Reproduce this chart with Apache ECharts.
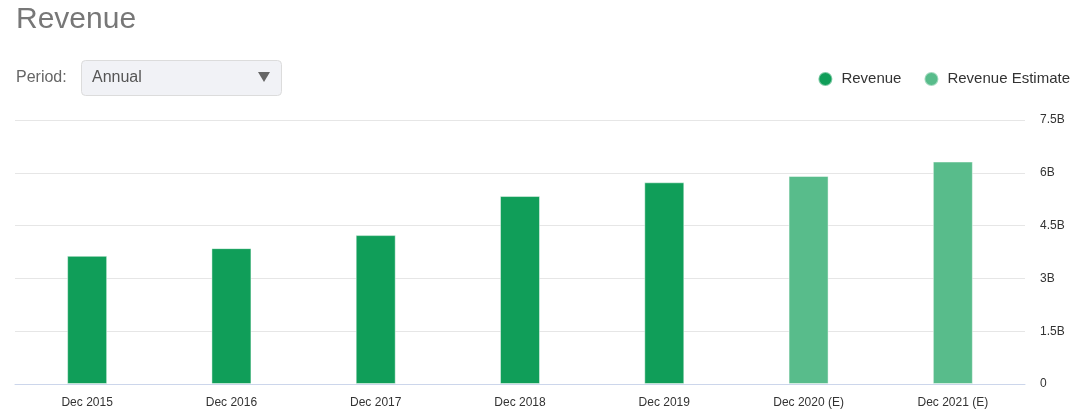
<!DOCTYPE html>
<html>
<head>
<meta charset="utf-8">
<script src="https://cdn.jsdelivr.net/npm/echarts@6/dist/echarts.min.js"></script>
<style>
  html, body { margin: 0; padding: 0; background: #fff; }
  #chart { width: 1079px; height: 416px; }
</style>
</head>
<body>
<div id="chart"></div>
<script>
var categories = ['Dec 2015', 'Dec 2016', 'Dec 2017', 'Dec 2018', 'Dec 2019', 'Dec 2020 (E)', 'Dec 2021 (E)'];
var revenue = [3.64, 3.86, 4.23, 5.34, 5.73, null, null];
var revenueEstimate = [null, null, null, null, null, 5.91, 6.32];
var yTicks = [0, 1.5, 3, 4.5, 6, 7.5];

var font = '"Liberation Sans", Arial, sans-serif';
var chart = echarts.init(document.getElementById('chart'));

var option = {
  backgroundColor: '#fff',
  animation: false,
  textStyle: { fontFamily: font },
  title: {
    text: 'Revenue',
    left: 11,
    top: 0,
    textStyle: { color: '#777', fontSize: 30, fontWeight: 'normal', fontFamily: font }
  },
  graphic: [
    {
      type: 'text', left: 16, top: 70,
      style: { text: 'Period:', fill: '#666', font: '16px ' + font }
    },
    {
      type: 'rect', left: 81, top: 60,
      shape: { width: 200, height: 35, r: 4 },
      style: { fill: '#f1f2f6', stroke: '#dcdcdc', lineWidth: 1 }
    },
    {
      type: 'text', left: 92, top: 70,
      style: { text: 'Annual', fill: '#555', font: '16px ' + font }
    },
    {
      type: 'polygon',
      shape: { points: [[258, 72], [270, 72], [264, 82]] },
      style: { fill: '#666' }
    }
  ],
  legend: {
    right: 4,
    top: 66,
    icon: 'circle',
    itemWidth: 14,
    itemHeight: 14,
    itemGap: 22,
    textStyle: { color: '#333', fontSize: 15, fontFamily: font, padding: [0, 0, 0, 4] },
    data: ['Revenue', 'Revenue Estimate']
  },
  grid: { left: 15, right: 54, top: 120, bottom: 32 },
  xAxis: {
    type: 'category',
    data: categories,
    axisLine: { lineStyle: { color: '#ccd6eb', width: 1 } },
    axisTick: { show: false },
    axisLabel: { color: '#333', fontSize: 12, margin: 13 }
  },
  yAxis: {
    type: 'value',
    position: 'right',
    min: 0,
    max: 7.5,
    interval: 1.5,
    splitLine: { lineStyle: { color: '#e6e6e6' } },
    axisLine: { show: false },
    axisTick: { show: false },
    axisLabel: {
      color: '#333',
      fontSize: 12,
      margin: 15,
      formatter: function (v) {
        return yTicks.indexOf(v) === 0 ? '0' : v + 'B';
      }
    }
  },
  series: [
    {
      name: 'Revenue',
      type: 'bar',
      data: revenue,
      barWidth: 40,
      barGap: '-100%',
      itemStyle: { color: '#109e59', borderColor: 'rgba(255,255,255,0.45)', borderWidth: 1 }
    },
    {
      name: 'Revenue Estimate',
      type: 'bar',
      data: revenueEstimate,
      barWidth: 40,
      itemStyle: { color: '#58bc8b', borderColor: 'rgba(255,255,255,0.45)', borderWidth: 1 }
    }
  ]
};
chart.setOption(option);
</script>
</body>
</html>
